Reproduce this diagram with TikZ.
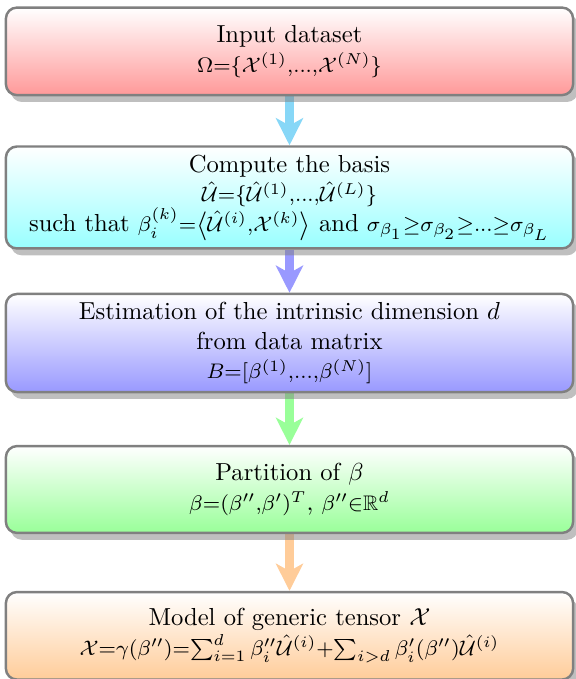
\documentclass[tikz,border=0pt]{standalone}
\usepackage{graphicx}
\usepackage{amsmath,amssymb}
\usetikzlibrary{arrows.meta,shadows,backgrounds}
\definecolor{skyarrow}{RGB}{135,215,247}
\newcommand{\fml}[1]{\scalebox{1.07}{\fontsize{10.95}{13.6}\selectfont$\scriptstyle#1$}}

\begin{document}
\begin{tikzpicture}[>={Stealth[length=11pt,width=11pt,inset=3pt]},
  stage/.style={draw=black!50,line width=1pt,rounded corners=4.5pt,
    minimum width=8.1cm,align=center,top color=white,
    drop shadow={shadow xshift=2pt,shadow yshift=-2.8pt}},
  flow/.style={->,line width=3.6pt,draw=#1}]
  \useasboundingbox (0,0) rectangle (8.225,-9.696);
  \node[stage,bottom color=red!40,minimum height=1.25cm] (input) at (4.134,-0.733)
    {Input dataset\\ \fml{\Omega=\{\mathcal{X}^{(1)},\ldots,\mathcal{X}^{(N)}\}}};
  \node[stage,bottom color=cyan!40,minimum height=1.44cm] (basis) at (4.134,-2.820)
    {Compute the basis\\ \fml{\hat{\mathcal{U}}=\{\hat{\mathcal{U}}^{(1)},\ldots,\hat{\mathcal{U}}^{(L)}\}}\\
     such that \fml{\beta_i^{(k)}=\left\langle\hat{\mathcal{U}}^{(i)},\mathcal{X}^{(k)}\right\rangle}
     and \fml{\sigma_{\beta_1}\geq\sigma_{\beta_2}\geq\ldots\geq\sigma_{\beta_L}}};
  \node[stage,bottom color=blue!40,minimum height=1.285cm] (dimen) at (4.134,-4.898)
    {Estimation of the intrinsic dimension $d$\\ from data matrix\\
     \fml{B=[\beta^{(1)},\ldots,\beta^{(N)}]}};
  \node[stage,bottom color=green!40,minimum height=1.24cm] (part) at (4.134,-6.990)
    {Partition of $\beta$\\ \fml{\beta=(\beta'',\beta')^T}, \fml{\beta''\in\mathbb{R}^d}};
  \node[stage,bottom color=orange!40,minimum height=1.25cm] (model) at (4.134,-9.079)
    {Model of generic tensor $\mathcal{X}$\\
     \fml{\mathcal{X}=\gamma(\beta'')=\sum_{i=1}^d\beta''_i\hat{\mathcal{U}}^{(i)}+\sum_{i>d}\beta'_i(\beta'')\hat{\mathcal{U}}^{(i)}}};
  \begin{pgfonlayer}{background}
    \foreach \from/\to/\col in {input/basis/skyarrow,basis/dimen/blue!40,dimen/part/green!40,part/model/orange!40}
      \draw[flow=\col] (\from) -- (\to);
  \end{pgfonlayer}
\end{tikzpicture}
\end{document}
